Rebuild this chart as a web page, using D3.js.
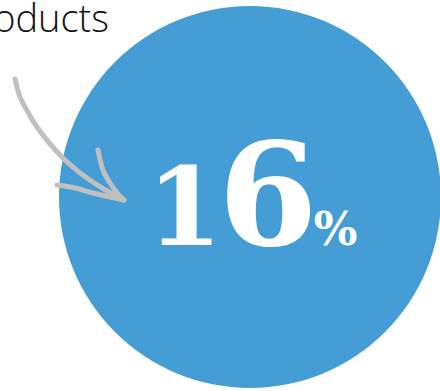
<!DOCTYPE html>
<html><head><meta charset="utf-8">
<script src="https://cdn.jsdelivr.net/npm/d3@7/dist/d3.min.js"></script>
<style>html,body{margin:0;padding:0;background:#fff;overflow:hidden}</style>
</head><body>
<svg id="chart" width="440" height="391"></svg>
<script>
const labels = ["products"];
const values = [16];
const unit = ["%"];

const svg = d3.select("#chart");
const cx = 250, cy = 197, R = 191;
const rScale = d3.scaleSqrt().domain([0, 16]).range([0, R]);

svg.selectAll("circle.bubble").data(values).join("circle")
  .attr("class", "bubble")
  .attr("cx", cx).attr("cy", cy).attr("r", d => rScale(d))
  .attr("fill", "#449DD4");

// label (cut off at left, as in the reference)
svg.append("text").text(labels[0])
  .attr("x", 109).attr("y", 32)
  .attr("text-anchor", "end")
  .attr("font-family", "'Open Sans', Lato, sans-serif")
  .attr("font-size", 38)
  .attr("font-weight", 300)
  .attr("fill", "#111");

// hand-drawn arrow
const line = d3.line().curve(d3.curveCatmullRom.alpha(0.5));
const arrowColor = "#C0C0C0";
const shaft = [[15,79],[20,97],[25,107],[37,127],[62,157],[87,178],[123,200]];
const head1 = [[98,150],[103,170],[110,183],[118,194],[124,200]];
const head2 = [[57,185],[75,188],[93,193],[124,200]];
[shaft, head1, head2].forEach(pts => {
  svg.append("path").attr("d", line(pts))
    .attr("fill", "none").attr("stroke", arrowColor)
    .attr("stroke-width", 5).attr("stroke-linecap", "round").attr("stroke-linejoin", "round");
});

// value text with old-style figure look
const digits = String(values[0]).split("");
const t = svg.append("text")
  .attr("x", 147).attr("y", 245)
  .attr("font-family", "'DejaVu Serif', 'Liberation Serif', serif")
  .attr("font-weight", "bold")
  .attr("fill", "#fff");
t.append("tspan").text(digits[0]).attr("font-size", 108);
t.append("tspan").text(digits[1]).attr("font-size", 143).attr("dx", -4);
t.append("tspan").text(unit[0]).attr("font-size", 46).attr("dx", -4);
</script>
</body></html>
